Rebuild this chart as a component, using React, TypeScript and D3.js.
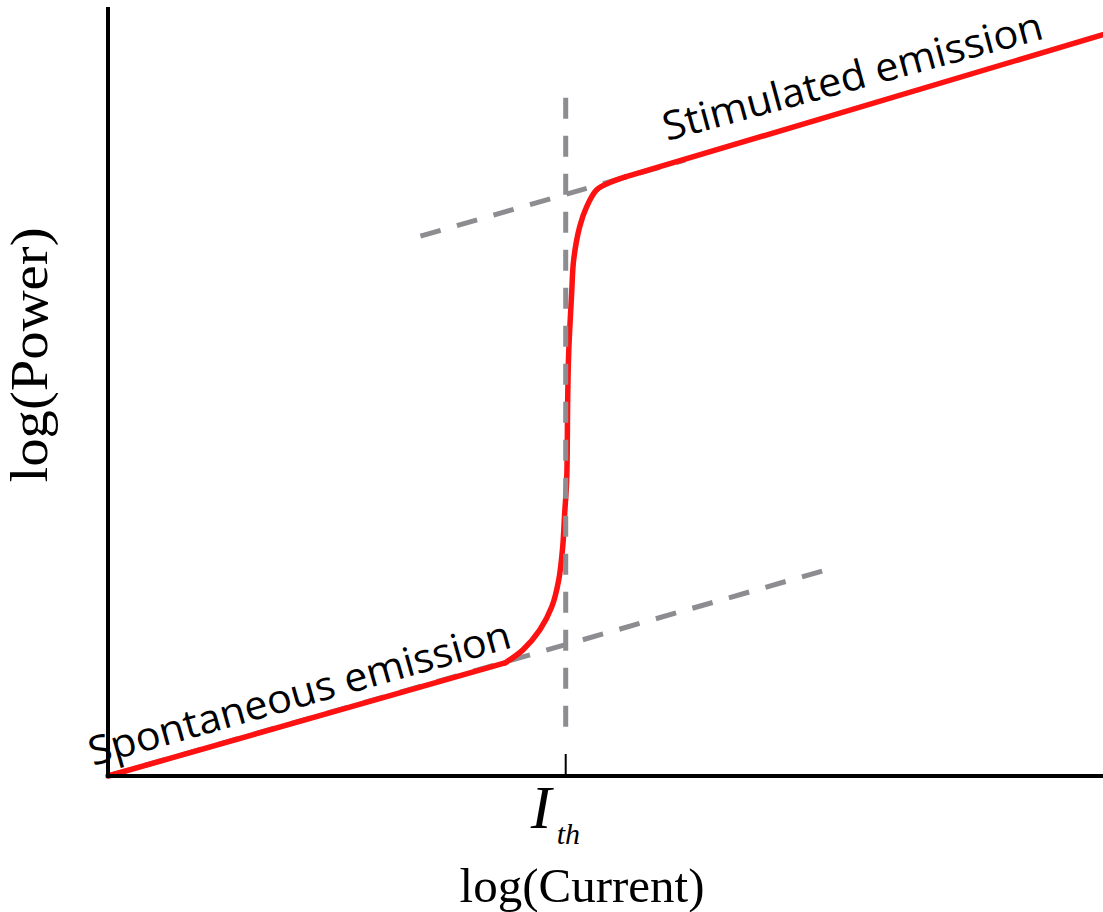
import React from "react";
import * as d3 from "d3";

// Red L-I curve (log current, log power), arbitrary units
const curveX = [0, 3.99, 4.17, 4.34, 4.46, 4.53, 4.57, 4.59, 4.61, 4.62, 4.63, 4.66, 4.68, 4.74, 4.81, 4.91, 5.05, 5.2, 10];
const curveY = [0, 1.47, 1.64, 1.9, 2.2, 2.55, 2.98, 3.42, 3.85, 4.89, 5.5, 6.28, 6.71, 7.14, 7.4, 7.62, 7.72, 7.79, 9.64];

// Asymptote guides
const spontX = [0, 7.19];
const spontY = [0, 2.67];
const stimX = [3.14, 5.8];
const stimY = [7.02, 8.01];
const thresholdX = 4.6;
const thresholdY = [8.82, 0.45];

const xLabel = "log(Current)";
const yLabel = "log(Power)";
const spontLabel = "Spontaneous emission";
const stimLabel = "Stimulated emission";

const W = 1103;
const H = 912;

export default function App() {
  const x = d3.scaleLinear().domain([0, 10]).range([108, 1103]);
  const y = d3.scaleLinear().domain([0, 10]).range([776, 7]);

  const line = d3
    .line<[number, number]>()
    .x((d) => x(d[0]))
    .y((d) => y(d[1]));
  const smooth = d3
    .line<[number, number]>()
    .x((d) => x(d[0]))
    .y((d) => y(d[1]))
    .curve(d3.curveCatmullRom.alpha(0.5));

  const curvePts = curveX.map((v, i) => [v, curveY[i]] as [number, number]);
  const n = curvePts.length;
  const lowPts = curvePts.slice(0, 2);
  const midPts = curvePts.slice(1, n - 1);
  const highPts = curvePts.slice(n - 2);
  const spontPts = spontX.map((v, i) => [v, spontY[i]] as [number, number]);
  const stimPts = stimX.map((v, i) => [v, stimY[i]] as [number, number]);
  const thrPts = thresholdY.map((v) => [thresholdX, v] as [number, number]);

  const gray = "#8d8d91";
  const dash = "21,17";
  const red = "#fe1111";
  const x0 = x.range()[0];
  const y0 = y.range()[0];
  const xt = x(thresholdX);

  return (
    <svg
      width={W}
      height={H}
      viewBox={`0 0 ${W} ${H}`}
      style={{ position: "absolute", left: 0, top: 0, background: "#fff" }}
    >
      <rect x={0} y={0} width={W} height={H} fill="#fff" />
      {/* diagonal asymptotes */}
      <path d={line(spontPts) || ""} stroke={gray} strokeWidth={5} strokeDasharray={dash} fill="none" />
      <path d={line(stimPts) || ""} stroke={gray} strokeWidth={5} strokeDasharray={dash} fill="none" />
      {/* red curve */}
      <g stroke={red} strokeWidth={5.5} fill="none" strokeLinejoin="round" strokeLinecap="round">
        <path d={line(lowPts) || ""} />
        <path d={smooth(midPts) || ""} />
        <path d={line(highPts) || ""} />
      </g>
      {/* threshold dashed vertical */}
      <path d={line(thrPts) || ""} stroke={gray} strokeWidth={5} strokeDasharray={dash} fill="none" />

      {/* axes */}
      <line x1={x0} y1={y.range()[1]} x2={x0} y2={y0 + 2} stroke="#000" strokeWidth={4} />
      <line x1={x0} y1={y0} x2={x.range()[1]} y2={y0} stroke="#000" strokeWidth={4} />
      <line x1={xt} y1={y0 - 22} x2={xt} y2={y0} stroke="#000" strokeWidth={2} />

      {/* threshold label */}
      <text
        x={xt - 35}
        y={828}
        fontFamily="'Liberation Serif', 'Times New Roman', serif"
        fontStyle="italic"
        fontSize={62}
        fill="#000"
      >
        I
      </text>
      <text
        x={xt - 9}
        y={844}
        fontFamily="'Liberation Serif', 'Times New Roman', serif"
        fontStyle="italic"
        fontSize={30}
        fill="#000"
      >
        th
      </text>

      {/* axis labels */}
      <text
        x={582}
        y={902}
        textAnchor="middle"
        fontFamily="'Liberation Serif', 'Times New Roman', serif"
        fontSize={49}
        fill="#000"
      >
        {xLabel}
      </text>
      <text
        transform={`translate(47,355) rotate(-90)`}
        textAnchor="middle"
        fontFamily="'Liberation Serif', 'Times New Roman', serif"
        fontSize={52}
        textLength={255}
        lengthAdjust="spacingAndGlyphs"
        fill="#000"
      >
        {yLabel}
      </text>

      {/* curve region labels */}
      <text
        transform={`translate(93,766) rotate(-15.8)`}
        fontFamily="'Open Sans', 'Noto Sans', sans-serif"
        fontSize={40}
        textLength={437}
        lengthAdjust="spacingAndGlyphs"
        fill="#000"
      >
        {spontLabel}
      </text>
      <text
        transform={`translate(667,141) rotate(-15.2)`}
        fontFamily="'Open Sans', 'Noto Sans', sans-serif"
        fontSize={40}
        textLength={392}
        lengthAdjust="spacingAndGlyphs"
        fill="#000"
      >
        {stimLabel}
      </text>
    </svg>
  );
}
